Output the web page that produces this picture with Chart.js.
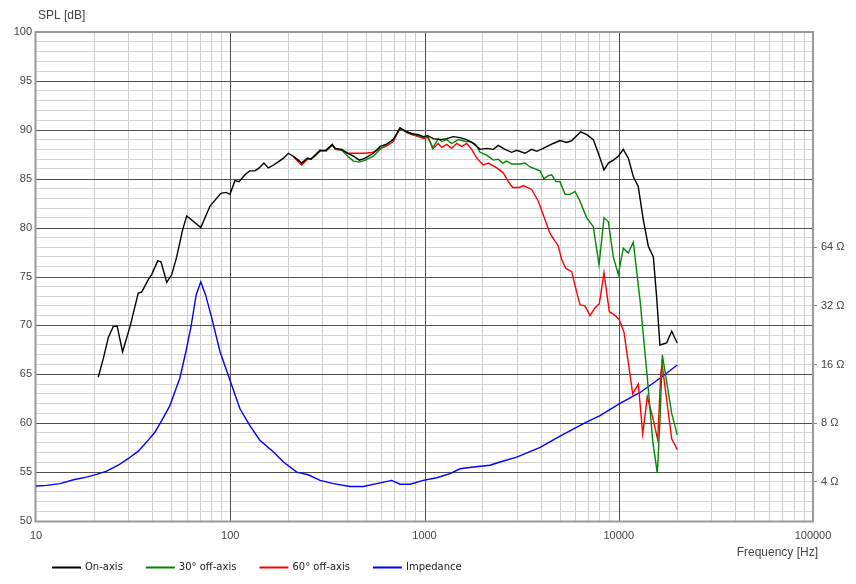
<!DOCTYPE html>
<html>
<head>
<meta charset="utf-8">
<title>SPL and impedance</title>
<style>
  body { margin: 0; background: #fff; }
  canvas { display: block; }
</style>
</head>
<body>
<canvas id="chart" width="856" height="584"></canvas>
<script src="https://cdn.jsdelivr.net/npm/chart.js"></script>
<script>
// on-axis response
var freqOn = [20.9, 22.2, 23.6, 25.0, 26.2, 27.9, 30.5, 33.6, 35.0, 37.9, 39.4, 42.3, 44.0, 47.1, 50.0, 53.0, 56.9, 59.7, 65.9, 70.5,
    78.7, 89.4, 95.1, 99.7, 105.7, 111, 119, 126, 134, 141, 149, 157, 167, 179, 188, 199, 211, 227, 233, 250,
    260, 273, 290, 311, 335, 347, 375, 403, 431, 462, 495, 546, 591, 634, 691, 748, 810, 859, 929, 986,
    1040, 1110, 1202, 1301, 1407, 1523, 1649, 1783, 1933, 2090, 2261, 2398, 2596, 2811, 2983, 3291, 3562, 3780, 4086, 4600,
    4985, 5400, 5727, 6370, 6844, 7400, 7850, 8400, 8840, 9380, 9950, 10550, 11200, 11890, 12600, 13380, 14200, 15070, 15670, 16290,
    17640, 18730, 20000];
var splOn = [64.7, 66.6, 68.8, 69.9, 69.9, 67.3, 69.9, 73.3, 73.4, 74.7, 75.2, 76.6, 76.5, 74.4, 75.2, 77.0, 79.8, 81.2, 80.5, 80.0,
    82.2, 83.5, 83.6, 83.4, 84.8, 84.7, 85.4, 85.8, 85.8, 86.1, 86.6, 86.1, 86.4, 86.8, 87.1, 87.6, 87.3, 86.8, 86.6, 87.1,
    87.0, 87.4, 87.9, 87.9, 88.5, 88.1, 88.0, 87.6, 87.3, 86.9, 87.1, 87.6, 88.3, 88.5, 89.0, 90.2, 89.8, 89.6, 89.5, 89.3,
    89.4, 89.1, 89.0, 89.1, 89.3, 89.2, 89.0, 88.6, 88.0, 88.1, 88.0, 88.4, 88.0, 87.7, 87.9, 87.6, 88.0, 87.8, 88.1, 88.6,
    88.9, 88.7, 88.9, 89.8, 89.5, 89.0, 87.6, 85.9, 86.6, 86.9, 87.3, 88.0, 87.1, 85.2, 84.2, 80.8, 78.1, 77.0, 72.9, 68.0,
    68.2, 69.4, 68.2];

// 30 degree off-axis
var freq30 = [211, 227, 233, 250, 260, 273, 290, 311, 335, 347, 375, 403, 431, 462, 495, 546, 591, 634, 691, 748,
    810, 859, 929, 986, 1040, 1100, 1178, 1227, 1301, 1380, 1495, 1630, 1730, 1836, 1933, 2090, 2261, 2398, 2527, 2650,
    2811, 3101, 3291, 3493, 3932, 4123, 4340, 4516, 4754, 4985, 5288, 5612, 5955, 6318, 6839, 7396, 7913, 8396, 8838, 9376,
    9947, 10554, 11199, 11880, 12866, 14028, 14957, 15793, 16310, 16762, 18731, 20010];
var spl30 = [87.3, 86.8, 86.6, 87.1, 87.0, 87.4, 87.9, 87.8, 88.4, 88.1, 87.9, 87.3, 86.8, 86.7, 86.9, 87.3, 88.0, 88.5, 89.0, 90.1,
    89.8, 89.6, 89.4, 89.2, 89.4, 88.1, 89.1, 88.8, 89.0, 88.6, 89.0, 88.8, 88.8, 88.5, 87.7, 87.4, 86.9, 87.0, 86.6, 86.8,
    86.5, 86.5, 86.6, 86.2, 85.8, 85.0, 85.3, 85.4, 84.7, 84.7, 83.4, 83.4, 83.7, 82.7, 81.0, 80.1, 76.2, 81.0, 80.6, 77.0,
    75.2, 77.9, 77.4, 78.5, 72.6, 64.7, 58.2, 54.9, 60.3, 67.0, 61.0, 58.8];

// 60 degree off-axis
var freq60 = [211, 227, 233, 250, 260, 273, 290, 311, 335, 347, 375, 403, 431, 462, 495, 546, 591, 634, 691, 748,
    810, 859, 929, 986, 1040, 1110, 1178, 1227, 1301, 1380, 1465, 1554, 1649, 1750, 1857, 2008, 2130, 2353, 2545, 2701,
    2845, 3076, 3226, 3563, 3854, 4089, 4428, 4886, 5086, 5351, 5726, 6074, 6318, 6706, 7112, 7546, 7941, 8396, 8942, 9452,
    10065, 10641, 11799, 12610, 13286, 14028, 14957, 15869, 16444, 16704, 18731, 20010];
var spl60 = [87.3, 86.6, 86.4, 87.0, 87.0, 87.3, 87.8, 87.9, 88.5, 88.0, 87.9, 87.6, 87.6, 87.6, 87.6, 87.7, 88.1, 88.3, 88.8, 90.2,
    89.7, 89.5, 89.3, 89.1, 89.2, 88.1, 88.6, 88.2, 88.5, 88.1, 88.6, 88.3, 88.6, 88.0, 87.1, 86.4, 86.6, 86.1, 85.6, 84.7,
    84.1, 84.1, 84.3, 83.9, 82.7, 81.3, 79.4, 78.1, 76.7, 75.8, 75.5, 73.4, 72.1, 72.0, 71.0, 71.8, 72.2, 75.4, 71.4, 71.1,
    70.6, 69.3, 63.0, 64.0, 58.9, 62.7, 60.6, 58.3, 65.0, 66.1, 58.4, 57.3];

// impedance (ohm)
var freqImp = [10, 11.35, 13.3, 15.6, 18.2, 20.5, 23.1, 26.5, 29.8, 33.6, 37.1, 41.0, 45.3, 48.9, 53.0, 55.0, 59.1, 62.8, 66.7, 70.5,
    74.7, 80.4, 88.6, 98.9, 112, 126, 142, 167, 188, 220, 252, 290, 340, 413, 484, 567, 678, 748, 842, 986,
    1156, 1353, 1523, 1784, 2173, 2446, 2983, 3940, 4985, 6580, 8004, 10150, 12880, 16300, 20000];
var ohmImp = [3.81, 3.84, 3.92, 4.10, 4.23, 4.37, 4.54, 4.87, 5.26, 5.75, 6.40, 7.21, 8.57, 9.85, 12.3, 13.6, 18.6, 25.0, 36.3, 42.5,
    36.3, 27.6, 18.6, 13.6, 9.51, 7.80, 6.54, 5.69, 5.06, 4.49, 4.35, 4.07, 3.92, 3.79, 3.79, 3.92, 4.07, 3.89, 3.89, 4.07,
    4.20, 4.41, 4.67, 4.77, 4.87, 5.06, 5.36, 6.02, 6.87, 7.97, 8.75, 10.1, 11.5, 13.6, 15.9];

var seriesNames = ["On-axis", "30\u00b0 off-axis", "60\u00b0 off-axis", "Impedance"];
var seriesColors = ["#000000", "#008800", "#ff0000", "#0000ff"];
var impTicks = [4, 8, 16, 32, 64];

function pts(xs, ys) {
    return xs.map(function (x, i) { return { x: x, y: ys[i] }; });
}

function isDecade(v) {
    var l = Math.log10(v);
    return Math.abs(l - Math.round(l)) < 1e-6;
}

var tickFont = { family: "Liberation Sans", size: 11 };

// major grid on top of the minor one, frame, axis titles and the legend
var decor = {
    id: "decor",
    beforeDatasetsDraw: function (chart) {
        var a = chart.chartArea, ctx = chart.ctx;
        var sx = chart.scales.x, sy = chart.scales.y;
        ctx.save();
        ctx.strokeStyle = "#505050";
        ctx.lineWidth = 1;
        ctx.beginPath();
        for (var d = 100; d < 100000; d *= 10) {
            var px = Math.round(sx.getPixelForValue(d)) + 0.5;
            ctx.moveTo(px, a.top);
            ctx.lineTo(px, a.bottom);
        }
        for (var v = 55; v < 100; v += 5) {
            var py = Math.round(sy.getPixelForValue(v)) + 0.5;
            ctx.moveTo(a.left, py);
            ctx.lineTo(a.right, py);
        }
        ctx.stroke();
        ctx.strokeStyle = "#999";
        ctx.lineWidth = 2;
        ctx.strokeRect(a.left - 0.5, a.top, a.right - a.left + 0.5, a.bottom - a.top + 0.5);
        ctx.restore();
    },
    afterDraw: function (chart) {
        var ctx = chart.ctx;
        ctx.save();
        ctx.fillStyle = "#444";
        ctx.font = "12px Liberation Sans";
        ctx.textBaseline = "middle";
        ctx.textAlign = "left";
        ctx.fillText("SPL [dB]", 38, 16);
        ctx.textAlign = "right";
        ctx.fillText("Frequency [Hz]", 818, 553);

        ctx.font = "10px DejaVu Sans";
        ctx.textAlign = "left";
        var x = 52, y = 567.5;
        for (var i = 0; i < seriesNames.length; i++) {
            ctx.strokeStyle = seriesColors[i];
            ctx.lineWidth = 2;
            ctx.beginPath();
            ctx.moveTo(x, y);
            ctx.lineTo(x + 29, y);
            ctx.stroke();
            ctx.fillStyle = "#222";
            ctx.fillText(seriesNames[i], x + 33, y);
            x += 33 + ctx.measureText(seriesNames[i]).width + 23;
        }
        ctx.restore();
    }
};

var ds = [
    pts(freqOn, splOn),
    pts(freq30, spl30),
    pts(freq60, spl60),
    pts(freqImp, ohmImp)
].map(function (d, i) {
    return {
        label: seriesNames[i],
        data: d,
        borderColor: seriesColors[i],
        backgroundColor: seriesColors[i],
        borderWidth: 1.4,
        pointRadius: 0,
        tension: 0,
        fill: false,
        yAxisID: i == 3 ? "y2" : "y"
    };
});

new Chart(document.getElementById("chart"), {
    type: "line",
    data: { datasets: ds },
    plugins: [decor],
    options: {
        responsive: false,
        animation: false,
        layout: { padding: { top: 32, left: 0, right: 0, bottom: 0 } },
        plugins: { legend: { display: false }, tooltip: { enabled: false } },
        scales: {
            x: {
                type: "logarithmic",
                min: 10,
                max: 100000,
                afterFit: function (s) { s.height = 63; },
                afterBuildTicks: function (s) {
                    var t = [];
                    for (var d = 10; d < 100000; d *= 10) {
                        for (var m = 1; m < 10; m++) t.push({ value: d * m });
                    }
                    t.push({ value: 100000 });
                    s.ticks = t;
                },
                border: { display: false },
                grid: {
                    drawTicks: false,
                    color: function (c) { return isDecade(c.tick.value) ? "rgba(0,0,0,0)" : "#cfcfcf"; }
                },
                ticks: {
                    autoSkip: false,
                    maxRotation: 0,
                    padding: 8,
                    color: "#444",
                    font: tickFont,
                    callback: function (v) { return isDecade(v) ? String(v) : ""; }
                }
            },
            y: {
                type: "linear",
                position: "left",
                min: 50,
                max: 100,
                afterFit: function (s) { s.width = 36; },
                border: { display: false },
                grid: {
                    drawTicks: false,
                    color: function (c) { return c.tick.value % 5 == 0 ? "rgba(0,0,0,0)" : "#d4d4d4"; }
                },
                ticks: {
                    stepSize: 1,
                    autoSkip: false,
                    padding: 4,
                    color: "#444",
                    font: tickFont,
                    callback: function (v) { return v % 5 == 0 ? String(v) : ""; }
                }
            },
            y2: {
                type: "logarithmic",
                position: "right",
                min: 8 * Math.pow(2, -10 / 6),
                max: 8 * Math.pow(2, 40 / 6),
                afterFit: function (s) { s.width = 43; },
                afterBuildTicks: function (s) {
                    s.ticks = impTicks.map(function (v) { return { value: v }; });
                },
                border: { display: false },
                grid: { drawOnChartArea: false, drawTicks: true, tickLength: 4, color: "#888" },
                ticks: {
                    autoSkip: false,
                    padding: 4,
                    color: "#444",
                    font: tickFont,
                    callback: function (v) { return v + " \u03a9"; }
                }
            }
        }
    }
});
</script>
</body>
</html>
